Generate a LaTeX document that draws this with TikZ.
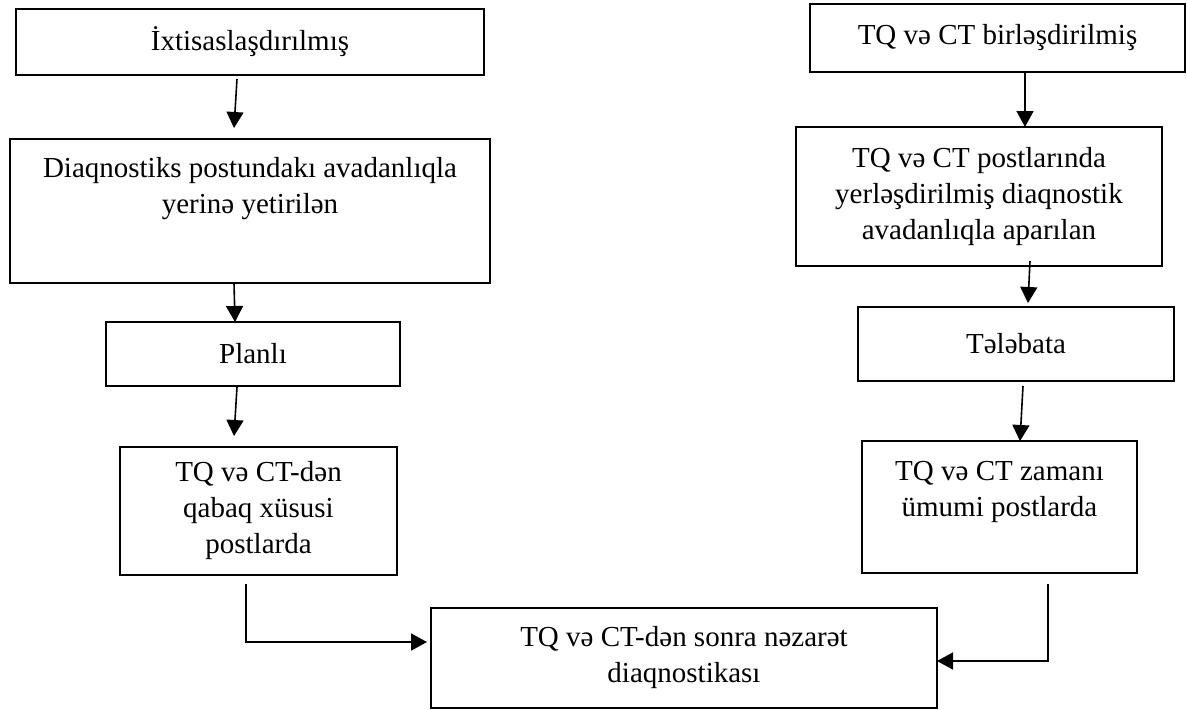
\documentclass[tikz,border=0pt]{standalone}
\usepackage{fontspec}
\setmainfont{Liberation Serif}
\usetikzlibrary{arrows.meta}
\begin{document}
\begin{tikzpicture}[x=1pt,y=-1pt,
  box/.style={draw, line width=1.9pt, inner sep=0pt, outer sep=0pt,
              align=center, font=\fontsize{29}{36}\selectfont},
  lbl/.style={inner sep=0pt, align=center, font=\fontsize{29}{36}\selectfont},
  arr/.style={line width=1.6pt, -{Triangle[length=16pt,width=17pt]}},
  elbow/.style={line width=1.6pt, -{Triangle[length=16pt,width=17pt]}}]
\useasboundingbox (0,0) rectangle (1187,710);
\fill[white] (0,0) rectangle (1187,710);

% left column
\node[box, minimum width=468pt, minimum height=66pt] (b1) at (250,42) {İxtisaslaşdırılmış};
\node[box, minimum width=480pt, minimum height=144pt] (b2) at (250,211) {};
\node[lbl, anchor=north] (t2) at ([yshift=-18pt]b2.north)
  {Diaqnostiks postundakı avadanlıqla\\yerinə yetirilən};
\node[box, minimum width=294pt, minimum height=64pt] (b3) at (253,354) {Planlı};
\node[box, minimum width=277pt, minimum height=128pt] (b4) at (258.5,511)
  {TQ və CT-dən\\qabaq xüsusi\\postlarda};

% right column
\node[box, minimum width=375pt, minimum height=68pt] (b5) at (997.5,38) {TQ və CT birləşdirilmiş};
\node[box, minimum width=366pt, minimum height=139pt] (b6) at (979,196.5)
  {TQ və CT postlarında\\yerləşdirilmiş diaqnostik\\avadanlıqla aparılan};
\node[box, minimum width=316pt, minimum height=74pt] (b7) at (1016,344) {Tələbata};
\node[box, minimum width=275pt, minimum height=132pt] (b8) at (999.5,507) {};
\node[lbl, anchor=north] (t8) at ([yshift=-20pt]b8.north)
  {TQ və CT zamanı\\ümumi postlarda};

% common final step
\node[box, minimum width=506pt, minimum height=100pt] (b9) at (684,658)
  {TQ və CT-dən sonra nəzarət\\diaqnostikası};

% connectors, left
\draw[arr] ([xshift=-13pt,yshift=-4pt]b1.south) -- ([xshift=-16pt,yshift=11pt]b2.north);
\draw[arr] ([xshift=-16pt]b2.south) -- ([xshift=-18pt]b3.north);
\draw[arr] ([xshift=-16pt,yshift=-1pt]b3.south) -- ([xshift=-24.5pt,yshift=11pt]b4.north);
\draw[elbow] ([xshift=-12.5pt,yshift=-9pt]b4.south) |- ([xshift=-4pt,yshift=16pt]b9.west);

% connectors, right
\draw[arr] ([xshift=27.5pt]b5.south) -- ([xshift=46pt]b6.north);
\draw[arr] ([xshift=51pt,yshift=5pt]b6.south) -- ([xshift=12pt,yshift=4pt]b7.north);
\draw[arr] ([xshift=7pt,yshift=-5pt]b7.south) -- ([xshift=20.5pt]b8.north);
\draw[elbow] ([xshift=48.5pt,yshift=-11pt]b8.south) |- ([yshift=-3pt]b9.east);
\end{tikzpicture}
\end{document}
